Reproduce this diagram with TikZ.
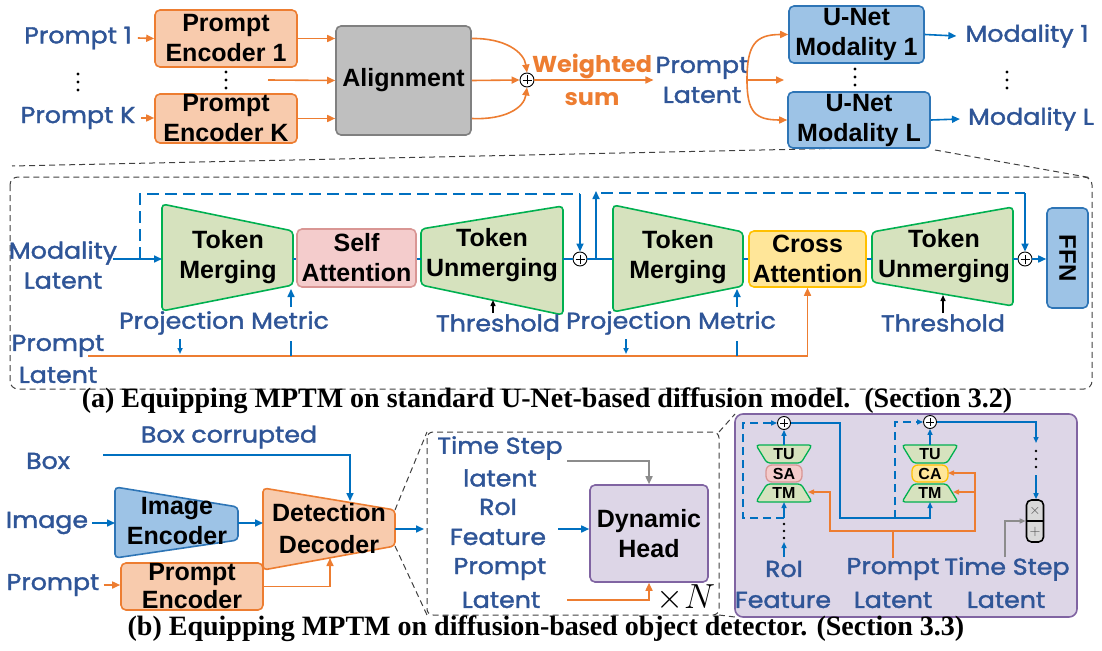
\documentclass[tikz,border=0pt]{standalone}
\usepackage{fontspec}
\setmainfont{Liberation Sans}
\newfontfamily\hand[FakeStretch=1.1,FakeBold=1.6]{Poppins}
\newfontfamily\handw[FakeStretch=1.04]{Poppins}
\newfontfamily\capserif{Liberation Serif}
\usetikzlibrary{arrows.meta,calc}

\definecolor{encFill}{HTML}{F8CBAD}
\definecolor{encLine}{HTML}{ED7D31}
\definecolor{alFill}{HTML}{BFBFBF}
\definecolor{alLine}{HTML}{808080}
\definecolor{unFill}{HTML}{9DC3E6}
\definecolor{unLine}{HTML}{2E75B6}
\definecolor{flow}{HTML}{0070C0}
\definecolor{lbl}{HTML}{2F5597}
\definecolor{tmFill}{HTML}{D6E2BE}
\definecolor{tmLine}{HTML}{00B050}
\definecolor{saFill}{HTML}{F4CCCC}
\definecolor{saLine}{HTML}{D99694}
\definecolor{caFill}{HTML}{FFE699}
\definecolor{caLine}{HTML}{FFC000}
\definecolor{dhFill}{HTML}{DDD6E7}
\definecolor{dhLine}{HTML}{8064A2}
\definecolor{tsLine}{HTML}{8C8C8C}
\definecolor{opFill}{HTML}{D9D9D9}

\tikzset{
  >={Triangle[length=8pt,width=7pt]},
  sarr/.style={-{Triangle[length=6pt,width=5pt]}},
  blk/.style={font=\bfseries\fontsize{25}{30}\selectfont, align=center, inner sep=0pt, text=black},
  rbox/.style={blk, rounded corners=5pt, line width=1.6pt},
  lab/.style={font=\hand\fontsize{23}{30}\selectfont, text=lbl, align=center, inner sep=0pt},
  bfl/.style={draw=flow, line width=1.6pt},
  ofl/.style={draw=encLine, line width=1.6pt},
  trap/.style={rounded corners=4pt, line width=1.6pt},
  tok/.style={trap, draw=tmLine, fill=tmFill},
  mini/.style={rounded corners=3pt, line width=1.3pt, draw=tmLine, fill=tmFill},
  osum/.style={circle, draw=black, fill=white, line width=0.9pt, minimum size=14pt, inner sep=0pt,
    path picture={\draw[line width=0.9pt]
      ([yshift=-2.5pt]path picture bounding box.north) -- ([yshift=2.5pt]path picture bounding box.south)
      ([xshift=2.5pt]path picture bounding box.west) -- ([xshift=-2.5pt]path picture bounding box.east);}},
  zoomline/.style={draw=black!75, line width=1pt, dash pattern=on 6pt off 4pt},
  skip/.style={draw=flow, line width=1.6pt, dash pattern=on 12pt off 6pt},
  pskip/.style={draw=flow, line width=1.4pt, dash pattern=on 8pt off 5pt},
  tiny/.style={font=\bfseries\fontsize{16}{18}\selectfont, inner sep=0pt},
  capt/.style={font=\capserif\bfseries\fontsize{28}{30}\selectfont, inner sep=0pt},
}

\begin{document}
\begin{tikzpicture}[x=1pt,y=-1pt]
\useasboundingbox (0,0) rectangle (1102,650);

% ---------------- top row: prompts, alignment, U-Nets ----------------
\draw[zoomline] (855,148) -- (12,166);
\draw[zoomline] (935,150) -- (1092,178);
\draw[zoomline, rounded corners=8pt] (10,177) rectangle (1092,389);

\node[lab] (p1) at (78,38) {Prompt 1};
\node[lab] (pk) at (78,118) {Prompt K};
\node[rbox, draw=encLine, fill=encFill, minimum width=142pt, minimum height=57pt] (enc1) at (226,38.5) {Prompt\\Encoder 1};
\node[rbox, draw=encLine, fill=encFill, minimum width=142pt, minimum height=49pt] (enck) at (226,118.5) {Prompt\\Encoder K};
\node[rbox, draw=alLine, fill=alFill, minimum width=135pt, minimum height=109pt] (align) at (403.5,80.5) {Alignment};
\node[osum] (ws) at (527,80) {};
\node[font=\handw\bfseries\fontsize{23}{33}\selectfont, text=encLine, align=center, inner sep=0pt] (wsum) at (592,80) {Weighted\\sum};
\node[lab] (plat) at (702,80) {Prompt\\Latent};
\node[rbox, draw=unLine, fill=unFill, minimum width=135pt, minimum height=57pt] (un1) at (856.5,34.5) {U-Net\\Modality 1};
\node[rbox, draw=unLine, fill=unFill, minimum width=142pt, minimum height=56pt] (unl) at (859,120) {U-Net\\Modality L};
\node[lab] (m1) at (1027,36) {Modality 1};
\node[lab] (ml1) at (1031,119) {Modality L};

\foreach \x/\y in {78/82, 226/80, 855/77, 1007/80}
  \foreach \d in {-8,0,8}
    \fill ({\x},{\y+\d}) circle (1.6pt);

\coordinate (midin) at (268,80);
\coordinate (alo1) at (align.east |- enc1.east);
\coordinate (alo2) at (align.east |- enck.east);
\coordinate (split) at (747,80);
\coordinate (splitmid) at (784,80);

\draw[ofl,->] ([xshift=6pt]p1.east) -- (enc1.west);
\draw[ofl,->] ([xshift=6pt]pk.east) -- (pk.east -| enck.west);
\draw[ofl,->] (enc1.east) -- (enc1.east -| align.west);
\draw[ofl,->] (midin) -- (align.west);
\draw[ofl,->] (enck.east) -- (enck.east -| align.west);
\draw[ofl,->] (alo1) .. controls (505,38) and (524,52) .. (ws.north);
\draw[ofl,->] (align.east) -- (ws.west);
\draw[ofl,->] (alo2) .. controls (505,120) and (524,108) .. (ws.south);
\draw[ofl,->] (ws.east) -- ([xshift=-2pt]plat.west);
\draw[ofl,->] (split) .. controls (747,45) and (755,34.5) .. (un1.west);
\draw[ofl,->] (split) -- (splitmid);
\draw[ofl,->] (split) .. controls (747,112) and (755,120) .. (unl.west);
\draw[bfl,->] (un1.east) -- ([xshift=-9pt]m1.west);
\draw[bfl,->] (unl.east) -- ([xshift=-8pt]ml1.west);

% ---------------- middle: token merging block ----------------
\node[lab] (ml) at (63,265) {Modality\\Latent};
\draw[tok] (162,204) -- (293,231) -- (293,285) -- (162,311) -- cycle;
\node[blk] (tm1) at (228,257) {Token\\Merging};
\node[rbox, draw=saLine, fill=saFill, minimum width=119pt, minimum height=58pt] (sa) at (356.5,258) {Self\\Attention};
\draw[tok] (421,229) -- (563,206) -- (563,315) -- (421,285) -- cycle;
\node[blk] (tu1) at (492,255) {Token\\Unmerging};
\node[osum] (s1) at (580,259) {};
\draw[tok] (613,205) -- (743,232) -- (743,286) -- (613,312) -- cycle;
\node[blk] (tm2) at (678,257) {Token\\Merging};
\node[rbox, draw=caLine, fill=caFill, minimum width=117pt, minimum height=56pt] (ca) at (807.5,259) {Cross\\Attention};
\draw[tok] (872,232) -- (1013,207) -- (1013,306) -- (872,282) -- cycle;
\node[blk] (tu2) at (944,256) {Token\\Unmerging};
\node[osum] (s3) at (1025,259) {};
\node[rbox, draw=unLine, fill=unFill, minimum width=41pt, minimum height=100pt] (ffn) at (1067.5,258) {};
\node[blk, font=\bfseries\fontsize{24}{28}\selectfont, rotate=-90] (ffnt) at (ffn) {FFN};

\coordinate (mlout) at (113,259);
\coordinate (tm1in) at (162,259);
\coordinate (tm1out) at (293,259);
\coordinate (tu1in) at (421,259);
\coordinate (tu1out) at (563,259);
\coordinate (tm2in) at (613,259);
\coordinate (tm2out) at (743,259);
\coordinate (tu2in) at (872,259);
\coordinate (tu2out) at (1013,259);

\draw[bfl,->] (mlout) -- (tm1in);
\draw[bfl] (tm1out) -- (tm1out -| sa.west);
\draw[bfl] (sa.east |- tu1in) -- (tu1in);
\draw[bfl] (tu1out) -- (s1.west);
\draw[bfl] (s1.east) -- (tm2in);
\draw[bfl] (tm2out) -- (tm2out -| ca.west);
\draw[bfl] (ca.east |- tu2in) -- (tu2in);
\draw[bfl] (tu2out) -- (s3.west);
\draw[bfl,->] (s3.east) -- (s3.east -| ffn.west);

% residual skips
\coordinate (k1) at (140,259);
\coordinate (k1top) at (140,194);
\coordinate (k1end) at (s1 |- k1top);
\draw[skip] (k1) -- (k1top) -- (k1end);
\draw[bfl,->] (k1end) -- (s1.north);
\coordinate (k2) at (596,259);
\coordinate (k2top) at (596,191);
\coordinate (k2dash) at (601,193);
\coordinate (k2end) at (s3 |- k2dash);
\draw[bfl,->] (k2) -- (k2top);
\draw[skip] (k2dash) -- (k2end);
\draw[bfl,->] (k2end) -- (s3.north);

% side inputs
\node[lab] (pm1) at (224,323) {Projection Metric};
\node[lab] (th1) at (498,323) {Threshold};
\node[lab] (pm2) at (671,323) {Projection Metric};
\node[lab] (th2) at (943,323) {Threshold};
\node[lab, font=\hand\fontsize{23}{32}\selectfont] (pl) at (58,359) {Prompt\\Latent};

\coordinate (plout) at (88,356);
\draw[ofl,->] (plout) -| (ca.south);

\draw[bfl,sarr] (180,339) -- (180,354);
\draw[bfl] (291,356) -- (291,341);
\draw[bfl,->] (291,307) -- (291,289);
\draw[bfl,sarr] (626,339) -- (626,354);
\draw[bfl] (737,356) -- (737,341);
\draw[bfl,->] (737,307) -- (737,289);
\draw[black, line width=1.4pt, sarr] (493,313) -- (493,300);
\draw[black, line width=1.4pt, sarr] (943,313) -- (943,295);

\node[capt] (capa) at (547,401) {(a) Equipping MPTM on standard U-Net-based diffusion model.\ \ (Section 3.2)};

% ---------------- bottom: detector ----------------
\node[lab] (box) at (48,461) {Box};
\node[lab] (boxc) at (229,437) {Box corrupted};
\node[lab] (img) at (47,523) {Image};
\node[lab] (prm) at (53,585) {Prompt};

\draw[trap, draw=unLine, fill=unFill] (115,487) -- (238,507) -- (238,540) -- (115,558) -- cycle;
\node[blk] (ie) at (177,521) {Image\\Encoder};
\draw[trap, draw=encLine, fill=encFill] (263,488) -- (395,510) -- (395,546) -- (263,570) -- cycle;
\node[blk, font=\bfseries\fontsize{25}{32}\selectfont] (dd) at (329,529) {Detection\\Decoder};
\node[rbox, draw=encLine, fill=encFill, minimum width=142pt, minimum height=47pt, font=\bfseries\fontsize{25}{28}\selectfont] (pe) at (192,586.5) {Prompt\\Encoder};

\coordinate (boxout) at (103,455);
\coordinate (ddtop) at (350,501);
\coordinate (iein) at (115,523);
\coordinate (ieout) at (238,523);
\coordinate (ddin) at (263,523);
\coordinate (ddbot) at (330,558);
\coordinate (ddout) at (395,529);
\coordinate (headin) at (424,529);

\draw[bfl,->] (boxout) -| (ddtop);
\draw[bfl,->] ([xshift=4pt]img.east) -- (iein);
\draw[bfl,->] (ieout) -- (ddin);
\draw[ofl,->] ([xshift=4pt]prm.east) -- (prm.east -| pe.west);
\draw[ofl,->] (pe.east) -| (ddbot);
\draw[bfl,->] (ddout) -- (headin);

% zoom into one decoder stage
\coordinate (ddtr) at (395,510);
\coordinate (ddbr) at (395,546);
\coordinate (rtl) at (427,432);
\coordinate (rbl) at (427,615);
\coordinate (rtr) at (719,432);
\coordinate (rbr) at (719,615);
\draw[zoomline, rounded corners=6pt] (rtl) rectangle (rbr);
\draw[zoomline] (ddtr) -- (rtl);
\draw[zoomline] (ddbr) -- (rbl);
\draw[zoomline] (rtr) -- (735,414);
\draw[zoomline] (rbr) -- (735,617);

\node[lab] (ts) at (500,448) {Time Step};
\node[lab] (tsl) at (500,478) {latent};
\node[lab] (roi) at (498,507) {RoI};
\node[lab] (feat) at (498,537) {Feature};
\node[lab] (pr2) at (500,569) {Prompt};
\node[lab] (lat2) at (501,600) {Latent};
\node[rbox, draw=dhLine, fill=dhFill, minimum width=118pt, minimum height=97pt] (dh) at (649,533.5) {Dynamic\\Head};
\node[inner sep=0pt] (xn) at (686,598) {\scalebox{1.4}{\Huge$\times N$}};

\coordinate (tsout) at (567,461);
\coordinate (roiout) at (558,529);
\coordinate (latout) at (567,600);
\draw[draw=tsLine, line width=1.6pt, ->] (tsout) -| (dh.north);
\draw[bfl,->] (roiout) -- (roiout -| dh.west);
\draw[ofl,->] (latout) -| (dh.south);

% ---------------- detail panel ----------------
\node[draw=dhLine, fill=dhFill, rounded corners=8pt, line width=1.6pt, minimum width=342pt, minimum height=203pt, inner sep=0pt] (panel) at (906,515.5) {};

% stage with self attention
\draw[mini] (756,445) -- (812,445) -- (801,463) -- (767,463) -- cycle;
\node[tiny] (tua) at (784,454) {TU};
\node[draw=saLine, fill=saFill, rounded corners=6pt, line width=1.3pt, minimum width=36pt, minimum height=17pt, tiny] (saa) at (784,473.5) {SA};
\draw[mini] (767,484) -- (801,484) -- (812,502) -- (756,502) -- cycle;
\node[tiny] (tma) at (784,493) {TM};
\node[osum, minimum size=13pt] (pa) at (784,423) {};

% stage with cross attention
\draw[mini] (902,445) -- (958,445) -- (947,463) -- (913,463) -- cycle;
\node[tiny] (tub) at (930,454) {TU};
\node[draw=caLine, fill=caFill, rounded corners=6pt, line width=1.3pt, minimum width=36pt, minimum height=17pt, tiny] (cab) at (930,473.5) {CA};
\draw[mini] (913,484) -- (947,484) -- (958,502) -- (902,502) -- cycle;
\node[tiny] (tmb) at (930,493) {TM};
\node[osum, minimum size=13pt] (pb) at (930,422) {};

\node[draw=black, fill=opFill, rounded corners=5pt, line width=1.6pt, minimum width=17pt, minimum height=42pt, inner sep=0pt] (mx) at (1035,521) {};
\draw[line width=1.2pt] (mx.west) -- (mx.east);
\node[inner sep=0pt, text=black!70] (mxt) at (1035,510.5) {\Large$\times$};
\node[inner sep=0pt, text=black!70] (mxp) at (1035,531.5) {\Large$+$};

\node[lab] (roip) at (784,569) {RoI};
\node[lab] (featp) at (783,600) {Feature};
\node[lab] (prp) at (893,569) {Prompt};
\node[lab] (latp) at (893,600) {Latent};
\node[lab] (tsp) at (1007,569) {Time Step};
\node[lab] (tslp) at (1006,600) {Latent};

\coordinate (tuatop) at (784,445);
\coordinate (tmabot) at (784,502);
\coordinate (ja) at (784,518);
\coordinate (roiup) at (784,557);
\coordinate (roitip) at (784,542);
\coordinate (tubtop) at (930,445);
\coordinate (tmbbot) at (930,502);
\coordinate (jb) at (895,518);
\coordinate (outdown) at (1036,443);
\coordinate (outdots) at (1036,475);
\coordinate (tsup) at (1005,557);
\coordinate (pjoin) at (893,531);
\coordinate (tmaright) at (808,492);
\coordinate (cabright) at (948,473);
\coordinate (tmbright) at (953,492);

\draw[bfl, line width=1.4pt, sarr] (tuatop) -- (pa.south);
\draw[bfl, line width=1.4pt, sarr] (ja) -- (tmabot);
\draw[bfl, line width=1.4pt, sarr] (roiup) -- (roitip);
\foreach \y in {524,531,538} \fill (784,\y) circle (1.4pt);
\draw[pskip, sarr] (ja) -- (743,518) -- (743,423) -- (pa.west);
\draw[bfl, line width=1.4pt, sarr] (pa.east) -| (840,518) -| (tmbbot);
\draw[pskip, sarr] (jb) -- (895,422) -- (pb.west);
\draw[bfl, line width=1.4pt, sarr] (tubtop) -- (pb.south);
\draw[bfl, line width=1.4pt, sarr] (pb.east) -| (outdown);
\foreach \y in {451,459,467} \fill (1036,\y) circle (1.4pt);
\draw[bfl, line width=1.4pt, sarr] (outdots) -- (mx.north -| outdots);
\draw[draw=tsLine, line width=1.4pt, sarr] (tsup) |- (mx.west);

\draw[ofl, line width=1.4pt] (prp.north) -- (pjoin);
\draw[ofl, line width=1.4pt, sarr] (pjoin) -| (830,492) -- (tmaright);
\draw[ofl, line width=1.4pt, sarr] (pjoin) -| (975,473) -- (cabright);
\draw[ofl, line width=1.4pt, sarr] (975,492) -- (tmbright);

\node[capt] (capb) at (546,629) {(b) Equipping MPTM on diffusion-based object detector. (Section 3.3)};
\end{tikzpicture}
\end{document}
